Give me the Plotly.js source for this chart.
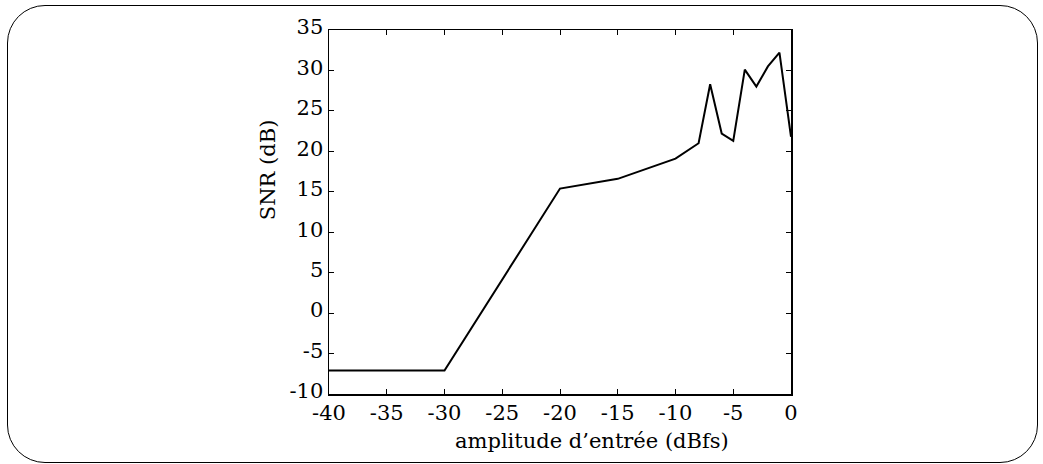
<!DOCTYPE html>
<html>
<head>
<meta charset="utf-8">
<script src="https://cdn.plot.ly/plotly-3.0.1.min.js"></script>
<style>
  html, body { margin: 0; padding: 0; background: #fff; }
  #wrap { position: relative; width: 1043px; height: 464px; }
  #frame { position: absolute; left: 7px; top: 5px; width: 1029px; height: 456px;
           border: 1.7px solid #000; border-radius: 38px; box-sizing: content-box; }
  #chart { position: absolute; left: 0; top: 0; width: 1043px; height: 464px; }
</style>
</head>
<body>
<div id="wrap">
  <div id="frame"></div>
  <div id="chart"></div>
</div>
<script>
const amplitude = [-40, -30, -20, -15, -10, -8, -7, -6, -5, -4, -3, -2, -1, 0];
const snr = [-7.1, -7.1, 15.4, 16.6, 19.1, 21.0, 28.3, 22.2, 21.3, 30.1, 28.0, 30.5, 32.2, 21.8];
const xTicks = [-40, -35, -30, -25, -20, -15, -10, -5, 0];
const yTicks = [-10, -5, 0, 5, 10, 15, 20, 25, 30, 35];
const xTitle = "amplitude d\u2019entrée (dBfs)";
const yTitle = "SNR (dB)";

const font = { family: "DejaVu Serif", size: 21, color: "#000" };

const trace = {
  x: amplitude, y: snr, type: "scatter", mode: "lines",
  line: { color: "#000", width: 2 }, cliponaxis: false, hoverinfo: "skip"
};

const axisCommon = {
  showgrid: false, zeroline: false, showline: true, linecolor: "#000", linewidth: 1.5,
  mirror: "ticks", ticks: "inside", ticklen: 5, tickwidth: 1, tickcolor: "#000",
  tickfont: font, fixedrange: true
};

const layout = {
  width: 1043, height: 464,
  margin: { l: 329, r: 252, t: 30, b: 70 },
  paper_bgcolor: "rgba(0,0,0,0)", plot_bgcolor: "rgba(0,0,0,0)",
  showlegend: false, font: font,
  xaxis: Object.assign({}, axisCommon, { range: [-40, 0], tickvals: xTicks, ticktext: xTicks.map(String), ticklabelstandoff: -1 }),
  yaxis: Object.assign({}, axisCommon, { range: [-10, 35], tickvals: yTicks, ticktext: yTicks.map(String), ticklabelshift: -3 }),
  annotations: [
    { text: xTitle, xref: "paper", yref: "paper", x: 0.569, y: -0.13, xanchor: "center", yanchor: "middle",
      showarrow: false, font: font },
    { text: yTitle, xref: "paper", yref: "paper", x: -0.132, y: 0.615, xanchor: "center", yanchor: "middle",
      textangle: -90, showarrow: false, font: font }
  ]
};

Plotly.newPlot("chart", [trace], layout, { staticPlot: true, displayModeBar: false });
</script>
</body>
</html>
